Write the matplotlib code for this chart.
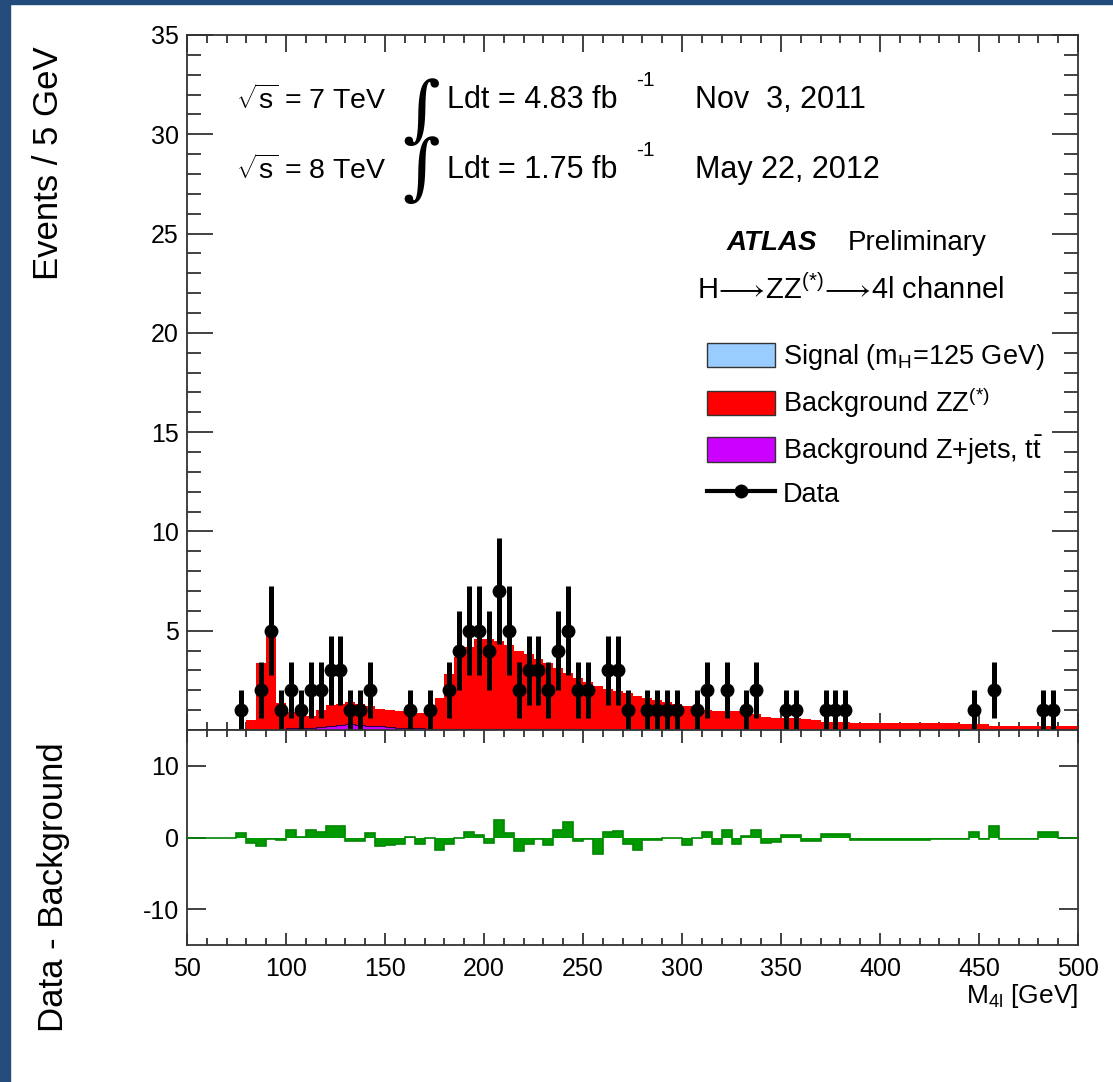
import numpy as np
import matplotlib
matplotlib.use("Agg")
import matplotlib.pyplot as plt
from matplotlib.patches import Patch, Rectangle
from matplotlib.lines import Line2D
from matplotlib.ticker import MultipleLocator

plt.rcParams['font.family'] = ['Liberation Sans', 'DejaVu Sans']
plt.rcParams['mathtext.fontset'] = 'custom'
plt.rcParams['mathtext.rm'] = 'Liberation Sans'
plt.rcParams['mathtext.it'] = 'Liberation Sans:italic'
plt.rcParams['mathtext.bf'] = 'Liberation Sans:bold'
plt.rcParams['axes.unicode_minus'] = False

# 5 GeV bins from 50 to 500 GeV (each row below = 50 GeV)
edges = np.arange(50, 505, 5)

data = [0, 0, 0, 0, 0, 1, 0, 2, 5, 1,
        2, 1, 2, 2, 3, 3, 1, 1, 2, 0,
        0, 0, 1, 0, 1, 0, 2, 4, 5, 5,
        4, 7, 5, 2, 3, 3, 2, 4, 5, 2,
        2, 0, 3, 3, 1, 0, 1, 1, 1, 1,
        0, 1, 2, 0, 2, 0, 1, 2, 0, 0,
        1, 1, 0, 0, 1, 1, 1, 0, 0, 0,
        0, 0, 0, 0, 0, 0, 0, 0, 0, 1,
        0, 2, 0, 0, 0, 0, 1, 1, 0, 0]

bkg_zz = [0, 0, 0, 0, 0, 0.03, 0.48, 3.33, 5.18, 1.33,
          0.82, 0.7, 0.6, 0.85, 1.05, 1.05, 1.12, 1.05, 0.98, 0.87,
          0.85, 0.83, 0.8, 0.77, 0.75, 1.56, 2.76, 3.66, 4.16, 4.56,
          4.57, 4.47, 4.27, 3.97, 3.82, 3.57, 3.32, 3.07, 2.82, 2.57,
          2.38, 2.18, 2.03, 1.93, 1.83, 1.68, 1.58, 1.48, 1.38, 1.28,
          1.18, 1.08, 0.98, 0.95, 0.95, 0.93, 0.88, 0.78, 0.63, 0.6,
          0.59, 0.59, 0.54, 0.49, 0.41, 0.39, 0.37, 0.32, 0.32, 0.32,
          0.32, 0.32, 0.32, 0.32, 0.32, 0.32, 0.32, 0.32, 0.29, 0.29,
          0.29, 0.21, 0.21, 0.21, 0.21, 0.21, 0.21, 0.21, 0.21, 0.21]

bkg_zjets = [0, 0, 0, 0, 0, 0.02, 0.02, 0.02, 0.02, 0.02,
             0.08, 0.1, 0.12, 0.15, 0.2, 0.25, 0.28, 0.25, 0.22, 0.18,
             0.15, 0.12, 0.1, 0.08, 0.05, 0.04, 0.04, 0.04, 0.04, 0.04,
             0.03, 0.03, 0.03, 0.03, 0.03, 0.03, 0.03, 0.03, 0.03, 0.03,
             0.02, 0.02, 0.02, 0.02, 0.02, 0.02, 0.02, 0.02, 0.02, 0.02,
             0.02, 0.02, 0.02, 0.02, 0.02, 0.02, 0.02, 0.02, 0.02, 0.02,
             0.01, 0.01, 0.01, 0.01, 0.01, 0.01, 0.01, 0.01, 0.01, 0.01,
             0.01, 0.01, 0.01, 0.01, 0.01, 0.01, 0.01, 0.01, 0.01, 0.01,
             0.01, 0.01, 0.01, 0.01, 0.01, 0.01, 0.01, 0.01, 0.01, 0.01]

# signal is not visible above the background in this plot
signal = [0] * 90

diff = [0, 0, 0, 0, 0, 0.68, -0.77, -1.2, -0.2, -0.28,
        1.0, 0.1, 1.0, 0.8, 1.6, 1.6, -0.45, -0.45, 0.68, -1.2,
        -1.1, -0.95, 0.1, -0.9, 0.0, -1.7, -0.9, 0.0, 0.8, 0.36,
        -0.7, 2.4, 0.68, -1.9, -0.9, -0.2, -1.0, 1.0, 2.2, -0.45,
        -0.2, -2.3, 0.8, 0.9, -0.9, -1.8, -0.3, -0.3, -0.1, -0.1,
        -1.1, -0.1, 0.8, -0.9, 1.0, -0.9, 0.2, 1.0, -0.7, -0.6,
        0.4, 0.4, -0.55, -0.55, 0.5, 0.5, 0.5, -0.3, -0.3, -0.3,
        -0.3, -0.3, -0.3, -0.3, -0.3, -0.2, -0.2, -0.2, -0.2, 0.75,
        -0.2, 1.6, -0.15, -0.15, -0.15, -0.15, 0.75, 0.75, 0, 0]

data = np.array(data, dtype=float)
zz = np.array(bkg_zz)
zj = np.array(bkg_zjets)
sig = np.array(signal, dtype=float)
centers = 0.5 * (edges[:-1] + edges[1:])

W, H = 1113, 1082
fig = plt.figure(figsize=(W / 100, H / 100), dpi=100)

# dark blue slide border
blue = '#234b7c'
fig.patches.append(Rectangle((0, 0), 10 / W, 1, transform=fig.transFigure, color=blue, zorder=0))
fig.patches.append(Rectangle((0, 1 - 4 / H), 1, 4 / H, transform=fig.transFigure, color=blue, zorder=0))

left, right = 187 / W, 1078 / W
ax = fig.add_axes([left, 1 - 730 / H, right - left, (730 - 35) / H])
ax2 = fig.add_axes([left, 1 - 945 / H, right - left, (945 - 730) / H])

# stacked histograms
ax.stairs(zj + zz + sig, edges, fill=True, color='#99ccff', zorder=1)
ax.stairs(zj + zz, edges, fill=True, color='#ff0000', zorder=2)
ax.stairs(zj, edges, fill=True, color='#cc00ff', zorder=3)
ax.stairs(zj, edges, color='#330044', lw=0.8, zorder=3)

m = data > 0
ax.errorbar(centers[m], data[m], yerr=np.sqrt(data[m]), fmt='o', color='black',
            ms=9, elinewidth=3.6, capsize=0, zorder=5)

ax.set_xlim(50, 500)
ax.set_ylim(0, 35)
ax.xaxis.set_major_locator(MultipleLocator(50))
ax.xaxis.set_minor_locator(MultipleLocator(10))
ax.yaxis.set_minor_locator(MultipleLocator(1))
ax.set_yticks([5, 10, 15, 20, 25, 30, 35])
ax.tick_params(axis='both', which='both', direction='in', top=True, right=True,
               labelbottom=False, labelsize=18, width=1.3, color='#333333')
ax.tick_params(axis='y', which='major', length=19, pad=6)
ax.tick_params(axis='y', which='minor', length=10)
ax.tick_params(axis='x', which='major', length=12)
ax.tick_params(axis='x', which='minor', length=6)
ax.set_ylabel('Events / 5 GeV', fontsize=25)
ax.yaxis.set_label_coords(-0.137, 0.815)

# lower panel: data - background
ax2.stairs(diff, edges, baseline=0, fill=True, color='#009900', zorder=2)
ax2.stairs(diff, edges, baseline=None, color='#008800', lw=1.2, zorder=3)
ax2.set_xlim(50, 500)
ax2.set_ylim(-15, 15)
ax2.set_yticks([-10, 0, 10])
ax2.xaxis.set_major_locator(MultipleLocator(50))
ax2.xaxis.set_minor_locator(MultipleLocator(10))
ax2.tick_params(axis='both', which='both', direction='in', top=True, right=True,
                labelsize=18, width=1.3, color='#333333')
ax2.tick_params(axis='x', which='major', length=9, pad=9)
ax2.tick_params(axis='x', which='minor', length=5)
ax2.tick_params(axis='y', which='major', length=14, pad=6)
ax2.set_ylabel('Data - Background', fontsize=25)
ax2.yaxis.set_label_coords(-0.131, 0.27)
ax2.set_xlabel(r'M$_{\rm 4l}$ [GeV]', fontsize=19, ha='right')
ax2.xaxis.set_label_coords(1.0, -0.17)

for a in (ax, ax2):
    for s in a.spines.values():
        s.set_linewidth(1.3)
        s.set_color('#333333')

def axpos(px, py):
    return (px - 187) / 891, (730 - py) / 695

fs = 22
t = dict(transform=ax.transAxes, va='center', fontsize=fs)
ax.text(*axpos(236, 100), r'$\sqrt{\rm s}$ = 7 TeV', transform=ax.transAxes, va='center', fontsize=20.5)
ax.text(*axpos(236, 170), r'$\sqrt{\rm s}$ = 8 TeV', transform=ax.transAxes, va='center', fontsize=20.5)
ax.text(*axpos(447, 100), 'Ldt = 4.83 fb', **t)
ax.text(*axpos(447, 170), 'Ldt = 1.75 fb', **t)
ax.text(*axpos(636, 80), '-1', transform=ax.transAxes, va='center', fontsize=15)
ax.text(*axpos(636, 150), '-1', transform=ax.transAxes, va='center', fontsize=15)
ax.text(*axpos(695, 100), 'Nov  3, 2011', **t)
ax.text(*axpos(695, 170), 'May 22, 2012', **t)
ax.text(*axpos(421, 142), '\u222b\n\u222b', transform=ax.transAxes, ha='center', va='center',
        fontsize=52, family='DejaVu Serif', linespacing=0.78)
ax.text(*axpos(727, 243), 'ATLAS', transform=ax.transAxes, va='center',
        fontsize=20, fontweight='bold', fontstyle='italic')
ax.text(*axpos(848, 243), 'Preliminary', transform=ax.transAxes, va='center', fontsize=20)
ax.text(*axpos(697, 290), r'H$\!\longrightarrow\!$ZZ$^{(*)}\!\longrightarrow\!$4l channel',
        transform=ax.transAxes, va='center', fontsize=21)

handles = [Patch(facecolor='#99ccff', edgecolor='#333333'),
           Patch(facecolor='#ff0000', edgecolor='#333333'),
           Patch(facecolor='#cc00ff', edgecolor='#333333'),
           Line2D([], [], color='black', marker='o', ms=9, lw=3)]
labels = [r'Signal (m$_{\rm H}$=125 GeV)', r'Background ZZ$^{(*)}$',
          r'Background Z+jets, t$\bar{\rm t}$', 'Data']
ax.legend(handles, labels, loc='upper left', bbox_to_anchor=axpos(707, 342),
          frameon=False, fontsize=19.5, handlelength=2.5, handleheight=1.0,
          handletextpad=0.3, labelspacing=0.5, borderpad=0, borderaxespad=0)

fig.savefig('out.png', dpi=100)
